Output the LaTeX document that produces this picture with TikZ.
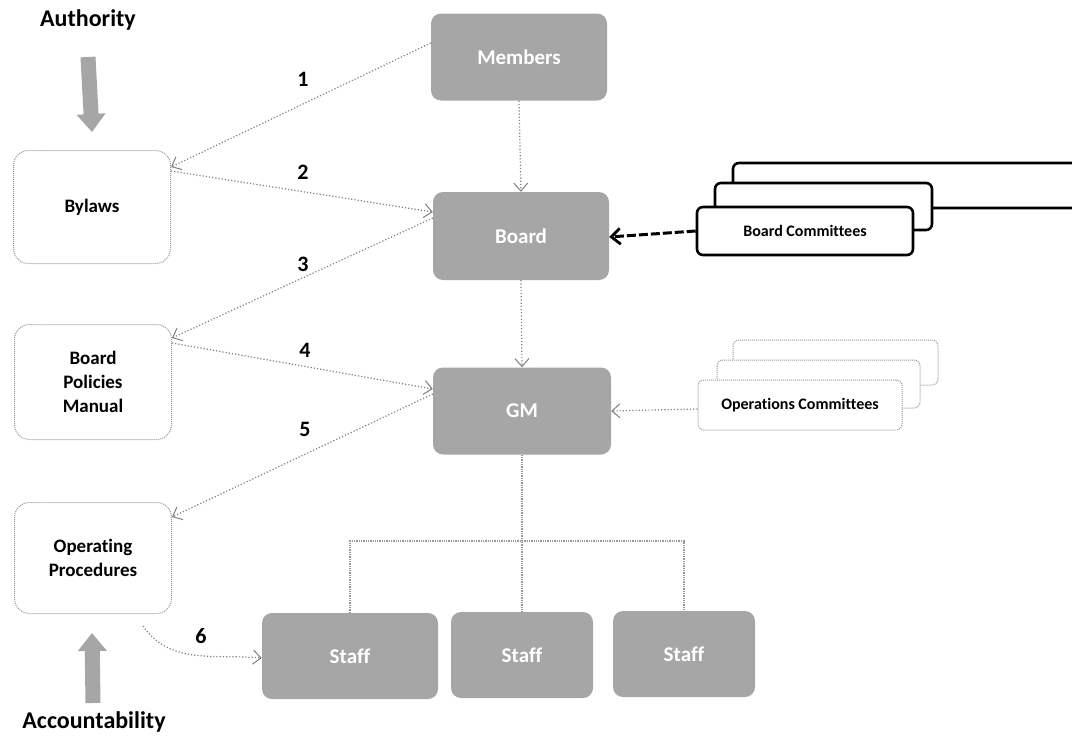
\documentclass[tikz,border=0pt]{standalone}
\usepackage{fontspec}
\setmainfont{Carlito}[Ligatures=NoCommon]
\usetikzlibrary{arrows.meta}
\tikzset{
  gbox/.style={rounded corners=10pt, fill=black!35, text=white, inner sep=0pt,
    font=\fontsize{21}{25}\selectfont\bfseries, minimum height=87pt},
  wbox/.style={rounded corners=15pt, draw=black!40, densely dotted, line width=1pt, fill=white,
    inner sep=0pt, minimum width=157pt, minimum height=113pt, align=center,
    font=\fontsize{19}{24}\selectfont\bfseries},
  lbl/.style={font=\fontsize{24}{28}\selectfont\bfseries, inner sep=0pt},
  num/.style={font=\fontsize{22}{26}\selectfont\bfseries, inner sep=0pt},
  dotarrow/.style={draw=black!50, dotted, line width=1.2pt, -{Straight Barb[length=8pt,width=14pt,line width=1pt]}},
  treeline/.style={draw=black!40, densely dotted, line width=1.3pt},
  barrow/.style={draw=black!35, line width=15pt, -{Triangle[length=18pt,width=28pt]}},
  bcbox/.style={draw=black, line width=2.6pt, rounded corners=6pt, fill=white},
  ocbox/.style={draw=black!40, densely dotted, line width=1pt, rounded corners=6pt, fill=white},
  cfont/.style={font=\fontsize{16}{19}\selectfont\bfseries}
}
\begin{document}
\begin{tikzpicture}[x=1pt,y=-1pt]
\useasboundingbox[fill=white] (0,0) rectangle (1072,742);

% main column
\node[gbox, minimum width=176pt] (members) at (519,57) {Members};
\node[gbox, minimum width=176pt, minimum height=88pt] (board) at (521,236) {Board};
\node[gbox, minimum width=178pt] (gm) at (522,411) {GM};
\node[gbox, minimum width=176pt, minimum height=86pt] (staffa) at (350,656) {Staff};
\node[gbox, minimum width=142pt, minimum height=86pt] (staffb) at (522,655) {Staff};
\node[gbox, minimum width=142pt, minimum height=86pt] (staffc) at (684,654) {Staff};

% left column
\node[lbl] (auth) at (88,20) {Authority};
\node[wbox] (bylaws) at (92,207) {Bylaws};
\node[wbox, minimum height=115pt] (bpm) at (93,382) {Board\\Policies\\Manual};
\node[wbox, minimum height=111pt] (op) at (93,558) {Operating\\Procedures};
\node[lbl] (acc) at (94,722) {Accountability};

\draw[barrow] ([yshift=-37pt]auth.center) -- ([yshift=75pt]bylaws.center);
\draw[barrow] ([xshift=-1pt,yshift=19pt]acc.center) -- ([xshift=-1pt,yshift=-75pt]op.center);

% numbered arrows
\draw[dotarrow] ([yshift=14pt]members.west) -- ([yshift=40pt]bylaws.east);
\draw[dotarrow] ([yshift=36pt]bylaws.east) -- ([yshift=24pt]board.west);
\draw[dotarrow] ([yshift=18pt]board.west) -- ([yshift=44pt]bpm.east);
\draw[dotarrow] ([yshift=39pt]bpm.east) -- ([yshift=22pt]gm.west);
\draw[dotarrow] ([yshift=17pt]gm.west) -- ([yshift=41pt]op.east);
\draw[dotarrow] ([xshift=50pt,yshift=-12pt]op.south) to[out=-55,in=175] ([yshift=-2pt]staffa.west);

\node[num] (n1) at (303,79) {1};
\node[num] (n2) at (303,172) {2};
\node[num] (n3) at (303,264) {3};
\node[num] (n4) at (305,350) {4};
\node[num] (n5) at (305,429) {5};
\node[num] (n6) at (201,636) {6};

% vertical arrows
\draw[dotarrow] (members.south) -- (board.north);
\draw[dotarrow] (board.south) -- (gm.north);

% tree to staff
\coordinate (bus) at (522,541);
\draw[treeline] (gm.south) -- (staffb.north);
\draw[treeline] (staffa.north) |- (bus) -| (staffc.north);

% board committees
\draw[bcbox] (733,163) rectangle (1110,208);
\draw[bcbox] (715,183) rectangle (932,230);
\node[bcbox, minimum width=216pt, minimum height=48pt, inner sep=0pt, cfont] (bc) at (805,231) {Board Committees};
\draw[black, line width=3pt, dash pattern=on 9pt off 3pt, -{Straight Barb[length=9pt,width=16pt,line width=2.8pt]}] (bc.west) -- ([yshift=-1pt]board.east);

% operations committees
\draw[ocbox] (733,340) rectangle (938,385);
\draw[ocbox] (717,360) rectangle (920,408);
\node[ocbox, minimum width=204pt, minimum height=50pt, inner sep=0pt, cfont] (oc) at (800,405) {Operations Committees};
\draw[dotarrow] ([yshift=-4pt]oc.west) -- (gm.east);
\end{tikzpicture}
\end{document}
